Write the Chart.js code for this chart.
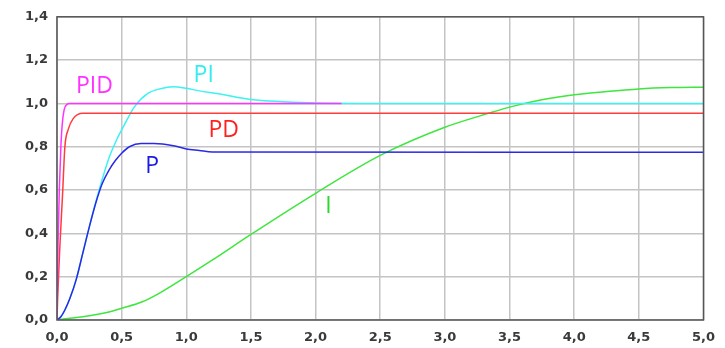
<!DOCTYPE html>
<html>
<head>
<meta charset="utf-8">
<script src="https://cdn.jsdelivr.net/npm/chart.js@4.4.1/dist/chart.umd.min.js"></script>
<style>
    html, body { margin: 0; padding: 0; background: #ffffff; }
    #wrap { width: 725px; height: 348px; }
</style>
</head>
<body>
<div id="wrap"><canvas id="stepChart"></canvas></div>
<script>
// step responses (time, output)
const pidX = [0, 0.008, 0.018, 0.03, 0.04, 0.055, 0.075, 0.1, 2.2];
const pidY = [0, 0.35, 0.6, 0.8, 0.9, 0.97, 0.995, 1.0, 1.0];

const pdX = [0, 0.005, 0.023, 0.043, 0.061, 0.087, 0.125, 0.2, 5.0];
const pdY = [0, 0.1, 0.35, 0.58, 0.8, 0.88, 0.93, 0.955, 0.955];

const pX = [0, 0.03, 0.06, 0.1, 0.15, 0.2, 0.25, 0.3, 0.35, 0.4, 0.45, 0.5, 0.56, 0.65, 0.75, 0.9, 1.0, 1.1, 1.2, 5.0];
const pY = [0, 0.015, 0.045, 0.1, 0.19, 0.31, 0.43, 0.54, 0.63, 0.69, 0.735, 0.77, 0.8, 0.815, 0.815, 0.805, 0.79, 0.783, 0.776, 0.775];

const piX = [0, 0.03, 0.06, 0.1, 0.15, 0.2, 0.25, 0.3, 0.35, 0.4, 0.46, 0.52, 0.6, 0.7, 0.8, 0.9, 1.0, 1.1, 1.25, 1.5, 1.75, 2.0, 2.5, 5.0];
const piY = [0, 0.015, 0.045, 0.1, 0.19, 0.31, 0.43, 0.545, 0.65, 0.745, 0.83, 0.9, 0.985, 1.045, 1.068, 1.077, 1.07, 1.058, 1.045, 1.018, 1.008, 1.002, 1.0, 1.0];

const iX = [0, 0.05, 0.2, 0.41, 0.5, 0.66, 0.79, 1.0, 1.2, 1.5, 2.0, 2.5, 3.0, 3.37, 3.5, 3.75, 4.0, 4.25, 4.5, 4.75, 5.0];
const iY = [0, 0.005, 0.015, 0.038, 0.054, 0.084, 0.123, 0.2, 0.276, 0.395, 0.585, 0.76, 0.89, 0.96, 0.983, 1.017, 1.04, 1.055, 1.067, 1.073, 1.075];

const seriesNames = ["PID", "PD", "P", "PI", "I"];

function points(xs, ys) {
    return xs.map(function (x, i) {
        return { x: x, y: ys[i] };
    });
}

function commaNum(v) {
    return Number(v).toFixed(1).replace(".", ",");
}

// curve names written inside the plot, in data coordinates
const curveLabels = [
    { text: "PID", x: 0.29, y: 1.078, color: "#ff33ff" },
    { text: "PI", x: 1.135, y: 1.129, color: "#33eeee" },
    { text: "PD", x: 1.29, y: 0.876, color: "#ff2020" },
    { text: "P", x: 0.736, y: 0.71, color: "#1a1ae6" },
    { text: "I", x: 2.1, y: 0.525, color: "#2ed62e" },
];

const frameAndLabels = {
    id: "frameAndLabels",
    afterDatasetsDraw: function (chart) {
        const ctx = chart.ctx;
        const area = chart.chartArea;
        ctx.save();
        ctx.strokeStyle = "#555555";
        ctx.lineWidth = 1.5;
        ctx.strokeRect(area.left, area.top, area.right - area.left, area.bottom - area.top);

        ctx.font = "23px 'Open Sans'";
        ctx.textAlign = "center";
        ctx.textBaseline = "middle";
        curveLabels.forEach(function (lab) {
            ctx.fillStyle = lab.color;
            ctx.fillText(lab.text, chart.scales.x.getPixelForValue(lab.x), chart.scales.y.getPixelForValue(lab.y));
        });
        ctx.restore();
    },
};

const lineStyle = {
    borderWidth: 1.5,
    pointRadius: 0,
    fill: false,
    showLine: true,
    cubicInterpolationMode: "monotone",
};

new Chart(document.getElementById("stepChart"), {
    type: "scatter",
    data: {
        datasets: [
            Object.assign({ label: seriesNames[0], data: points(pidX, pidY), borderColor: "#ff33ff" }, lineStyle),
            Object.assign({ label: seriesNames[1], data: points(pdX, pdY), borderColor: "#ff3b3b" }, lineStyle),
            Object.assign({ label: seriesNames[2], data: points(pX, pY), borderColor: "#2a2ae6" }, lineStyle),
            Object.assign({ label: seriesNames[3], data: points(piX, piY), borderColor: "#3cf2f2" }, lineStyle),
            Object.assign({ label: seriesNames[4], data: points(iX, iY), borderColor: "#3ee63e" }, lineStyle),
        ],
    },
    options: {
        responsive: true,
        maintainAspectRatio: false,
        animation: false,
        layout: {
            padding: { top: 16, right: 16, left: 0, bottom: 0 },
        },
        plugins: {
            legend: { display: false },
            tooltip: { enabled: false },
        },
        scales: {
            x: {
                type: "linear",
                min: 0,
                max: 5,
                border: { display: false },
                grid: { color: "#c4c4c4", lineWidth: 1.5, drawTicks: false },
                ticks: {
                    stepSize: 0.5,
                    padding: 10,
                    color: "#3a3a3a",
                    font: { family: "DejaVu Sans", size: 13, weight: "bold" },
                    maxRotation: 0,
                    callback: commaNum,
                },
                afterFit: function (scale) {
                    scale.height = 28;
                },
            },
            y: {
                min: 0,
                max: 1.4,
                border: { display: false },
                grid: { color: "#c4c4c4", lineWidth: 1.5, drawTicks: false },
                ticks: {
                    stepSize: 0.2,
                    padding: 9,
                    color: "#3a3a3a",
                    font: { family: "DejaVu Sans", size: 13, weight: "bold" },
                    callback: commaNum,
                },
                afterFit: function (scale) {
                    scale.width = 57;
                },
            },
        },
    },
    plugins: [frameAndLabels],
});
</script>
</body>
</html>
